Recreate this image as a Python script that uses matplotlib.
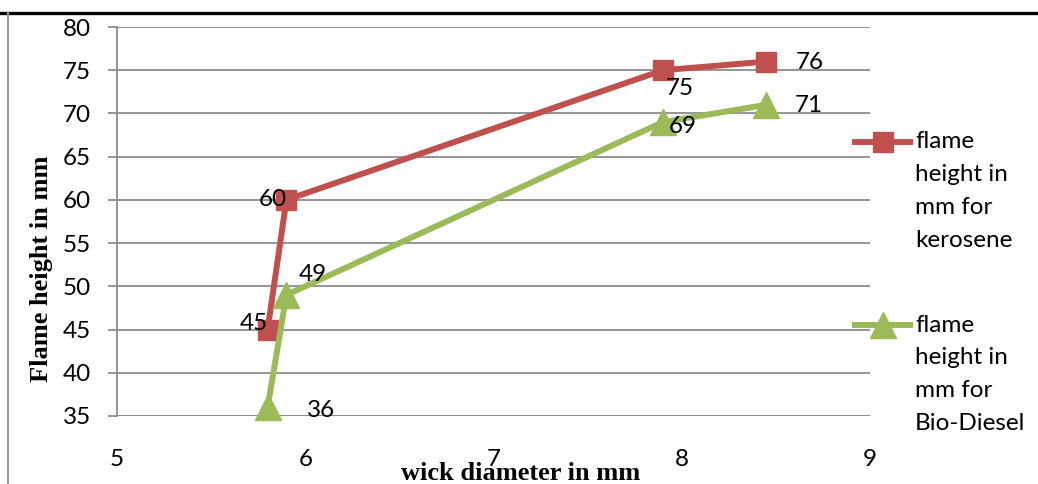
import matplotlib
matplotlib.use("Agg")
import matplotlib.pyplot as plt
from matplotlib.lines import Line2D

# wick diameter (mm) and measured flame heights (mm)
wick_diameter = [5.8, 5.9, 7.9, 8.45]
kerosene = [45, 60, 75, 76]
bio_diesel = [36, 49, 69, 71]

series_names = ["flame\nheight in\nmm for\nkerosene",
                "flame\nheight in\nmm for\nBio-Diesel"]
x_ticks = [5, 6, 7, 8, 9]
y_ticks = [35, 40, 45, 50, 55, 60, 65, 70, 75, 80]

RED = "#C0504D"
GREEN = "#9BBB59"
GRID = "#8C8C8C"
FS = 17.5

plt.rcParams["font.family"] = ["Lato", "DejaVu Sans"]

W, H, DPI = 1038, 484, 100
fig = plt.figure(figsize=(W / DPI, H / DPI), dpi=DPI)
ax = fig.add_axes([117 / W, 1 - 416 / H, (870 - 117) / W, (416 - 27) / H])

ax.set_xlim(5, 9)
ax.set_ylim(35, 80)
ax.set_xticks(x_ticks)
ax.set_yticks(y_ticks)
ax.set_xticklabels([str(v) for v in x_ticks])
ax.set_yticklabels([str(v) for v in y_ticks])

for s in ["top", "right", "bottom"]:
    ax.spines[s].set_visible(False)
ax.spines["left"].set_color(GRID)
ax.spines["left"].set_linewidth(1.3)

ax.yaxis.grid(True, color=GRID, linewidth=1.3)
ax.set_axisbelow(True)
ax.tick_params(axis="y", direction="out", length=6.5, width=1.3, color=GRID,
               labelsize=FS, pad=12)
ax.tick_params(axis="x", length=0, labelsize=FS, pad=24)

# bottom gridline doubles as the horizontal axis
ax.axhline(35, color=GRID, linewidth=1.3, zorder=1)

ax.plot(wick_diameter, kerosene, color=RED, linewidth=4.3, marker="s",
        markersize=14, markeredgecolor=RED, zorder=3, clip_on=False)
ax.plot(wick_diameter, bio_diesel, color=GREEN, linewidth=4.3, marker="^",
        markersize=19, markeredgecolor=GREEN, zorder=3, clip_on=False)

# value labels, offsets in pixels (dx right, dy down)
ker_offsets = [(-14, -6), (-14, 0), (17, 18), (43, 1)]
bio_offsets = [(53, 3), (26, -20), (20, 4), (42, 1)]
k = 72 / DPI
for xs, ys, offs in [(wick_diameter, kerosene, ker_offsets),
                     (wick_diameter, bio_diesel, bio_offsets)]:
    for xv, yv, (dx, dy) in zip(xs, ys, offs):
        ax.annotate(str(yv), (xv, yv), xytext=(dx * k, -dy * k),
                    textcoords="offset points", ha="center", va="center",
                    fontsize=FS, zorder=5, annotation_clip=False)

ax.set_ylabel("Flame height in mm", family="Liberation Serif",
              fontweight="bold", fontsize=19)
ax.yaxis.set_label_coords((53 - 117) / (870 - 117), (416 - 269) / (416 - 27))
fig.text(521 / W, 1 - 474 / H, "wick diameter in mm", family="Liberation Serif",
         fontweight="bold", fontsize=19, ha="center", va="center")

# legend entries on the right
def fx(px):
    return px / W

def fy(py):
    return 1 - py / H

for (color, marker, ms), label, top in [((RED, "s", 14), series_names[0], 142),
                                        ((GREEN, "^", 19), series_names[1], 325)]:
    fig.add_artist(Line2D([fx(855), fx(910)], [fy(top), fy(top)], color=color,
                          linewidth=4.3, transform=fig.transFigure))
    fig.add_artist(Line2D([fx(882.5)], [fy(top)], color=color, marker=marker,
                          markersize=ms, markeredgecolor=color,
                          transform=fig.transFigure))
    for i, line in enumerate(label.split("\n")):
        fig.text(fx(915), fy(top + i * 32.7), line, fontsize=FS,
                 ha="left", va="center")

# page frame lines
fig.add_artist(Line2D([0, 1], [fy(13), fy(13)], color="black", linewidth=2.4,
                      transform=fig.transFigure))
fig.add_artist(Line2D([fx(7.5), fx(7.5)], [0, fy(13)], color="#9A9A9A",
                      linewidth=1.5, transform=fig.transFigure))

fig.savefig("out.png", dpi=DPI)
